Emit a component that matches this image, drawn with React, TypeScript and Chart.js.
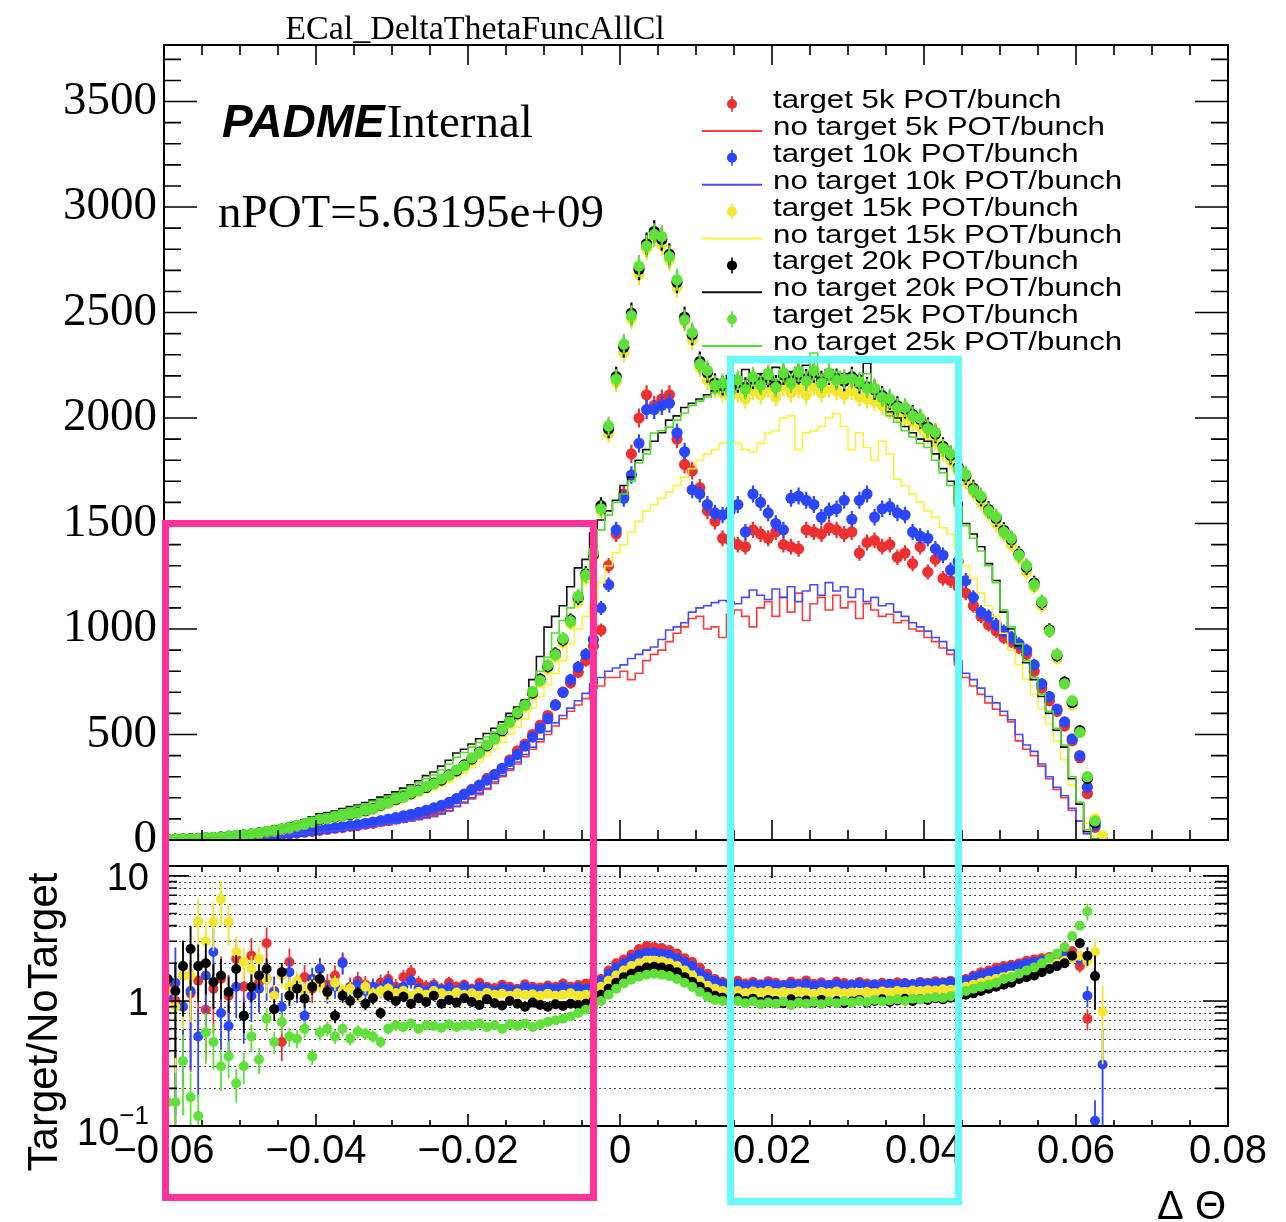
import React, { useEffect, useRef } from 'react';
import { Chart, registerables } from 'chart.js';

Chart.register(...registerables);

// ---------------- binning & axes ----------------
const X_START = -0.06;
const BIN_W = 0.001;
const X_MIN = -0.06;
const X_MAX = 0.08;
const X_TICKS = [-0.06, -0.04, -0.02, 0, 0.02, 0.04, 0.06, 0.08];
const X_MINOR_STEP = 0.005;
const UPPER_Y_MAX = 3768;
const UPPER_Y_TICKS = [0, 500, 1000, 1500, 2000, 2500, 3000, 3500];
const UPPER_Y_MINOR_STEP = 100;
const RATIO_Y_MIN = 0.1;
const RATIO_Y_MAX = 12;
const RATIO_Y_TICKS = [0.1, 1, 10];
const RATIO_Y_TICK_LABELS = [['10', '\u22121'], ['1', ''], ['10', '']];

const TITLE = 'ECal_DeltaThetaFuncAllCl';
const X_TITLE = '\u0394 \u0398';
const RATIO_Y_TITLE = 'Target/NoTarget';
const EXPERIMENT = 'PADME';
const STATUS = 'Internal';
const N_POT_TEXT = 'nPOT=5.63195e+09';
const POT_LABELS = ['5k', '10k', '15k', '20k', '25k'];

// ---------------- target (points) ----------------
const T_5K = [
  2, 3, 3, 4, 5, 6, 7, 8, 10, 11,
  13, 15, 17, 20, 23, 26, 29, 33, 37, 41,
  46, 50, 56, 59, 65, 68, 75, 79, 87, 92,
  99, 105, 114, 120, 131, 141, 155, 172, 195, 218,
  240, 255, 292, 310, 338, 380, 422, 455, 500, 545,
  590, 640, 700, 745, 795, 850, 920, 995, 1300, 1450,
  1640, 1830, 2000, 2110, 2060, 2090, 2110, 1900, 1780, 1750,
  1670, 1560, 1510, 1430, 1420, 1400, 1390, 1470, 1450, 1430,
  1460, 1400, 1390, 1380, 1470, 1460, 1450, 1480, 1470, 1450,
  1460, 1360, 1410, 1420, 1390, 1400, 1340, 1360, 1310, 1390,
  1270, 1330, 1240, 1230, 1200, 1170, 1110, 1060, 1020, 990,
  960, 940, 910, 880, 800, 720, 660, 610, 540, 470,
  390, 220, 60, 0,
];
const T_10K = [
  2, 3, 4, 4, 5, 6, 8, 9, 10, 12,
  14, 16, 18, 21, 24, 28, 31, 35, 39, 44,
  50, 54, 58, 63, 68, 73, 79, 85, 92, 99,
  106, 114, 122, 131, 141, 152, 164, 178, 196, 216,
  238, 260, 284, 310, 340, 372, 405, 445, 488, 530,
  575, 640, 700, 760, 820, 880, 950, 1100, 1210, 1470,
  1620, 1730, 1880, 2040, 2040, 2060, 2070, 1930, 1840, 1660,
  1640, 1590, 1550, 1540, 1560, 1590, 1460, 1640, 1600, 1550,
  1500, 1470, 1620, 1630, 1610, 1590, 1530, 1560, 1570, 1610,
  1520, 1610, 1640, 1530, 1570, 1580, 1550, 1540, 1460, 1440,
  1430, 1380, 1350, 1280, 1320, 1230, 1150, 1080, 1060, 1020,
  990, 960, 930, 900, 830, 740, 680, 620, 560, 480,
  400, 250, 70, 2,
];
const T_15K = [
  3, 4, 5, 6, 8, 10, 12, 14, 17, 20,
  24, 28, 32, 38, 43, 50, 57, 66, 75, 85,
  95, 101, 108, 113, 120, 127, 136, 146, 160, 174,
  188, 201, 216, 230, 246, 262, 281, 301, 324, 349,
  377, 408, 440, 474, 510, 550, 590, 630, 688, 748,
  810, 868, 935, 1025, 1130, 1240, 1335, 1560, 1925, 2170,
  2310, 2470, 2680, 2800, 2860, 2820, 2750, 2620, 2460, 2370,
  2240, 2180, 2140, 2120, 2100, 2120, 2090, 2130, 2110, 2140,
  2100, 2150, 2120, 2140, 2110, 2150, 2120, 2140, 2130, 2110,
  2130, 2100, 2090, 2080, 2060, 2040, 2020, 2000, 1980, 1960,
  1920, 1890, 1840, 1800, 1750, 1700, 1650, 1600, 1550, 1500,
  1450, 1400, 1340, 1270, 1200, 1110, 990, 860, 740, 640,
  510, 300, 100, 20,
];
const T_20K = [
  3, 4, 5, 7, 8, 10, 12, 15, 18, 21,
  25, 29, 34, 40, 46, 53, 60, 68, 77, 87,
  97, 104, 109, 117, 121, 130, 139, 149, 164, 177,
  192, 206, 219, 236, 249, 270, 284, 309, 328, 356,
  384, 417, 446, 483, 518, 563, 598, 643, 697, 763,
  822, 884, 948, 1043, 1148, 1262, 1352, 1585, 1948, 2196,
  2335, 2497, 2705, 2826, 2884, 2846, 2776, 2643, 2478, 2394,
  2268, 2214, 2166, 2153, 2138, 2166, 2147, 2184, 2168, 2193,
  2158, 2204, 2176, 2206, 2186, 2214, 2177, 2203, 2188, 2174,
  2196, 2163, 2148, 2133, 2106, 2084, 2058, 2043, 2017, 1994,
  1958, 1924, 1866, 1823, 1768, 1724, 1667, 1622, 1566, 1524,
  1468, 1423, 1356, 1292, 1218, 1124, 996, 873, 748, 652,
  518, 292, 82, 0,
];
const T_25K = [
  3, 4, 5, 6, 8, 11, 12, 14, 18, 22,
  24, 30, 33, 41, 45, 54, 59, 69, 76, 86,
  99, 102, 111, 115, 124, 128, 141, 147, 166, 175,
  195, 203, 222, 233, 253, 266, 289, 305, 333, 352,
  389, 413, 451, 479, 523, 558, 604, 639, 703, 756,
  829, 878, 955, 1036, 1156, 1255, 1360, 1570, 1962, 2185,
  2350, 2485, 2720, 2815, 2870, 2860, 2765, 2655, 2465, 2405,
  2255, 2225, 2155, 2165, 2125, 2180, 2135, 2195, 2155, 2205,
  2145, 2215, 2165, 2218, 2175, 2225, 2165, 2212, 2178, 2185,
  2186, 2172, 2140, 2142, 2098, 2092, 2050, 2050, 2010, 2000,
  1950, 1932, 1858, 1830, 1760, 1732, 1660, 1630, 1560, 1532,
  1460, 1430, 1350, 1300, 1210, 1130, 990, 880, 740, 660,
  510, 300, 90, 0,
];

// ---------------- no target (histograms) ----------------
const NT_5K = [
  2, 2, 3, 3, 4, 5, 6, 7, 8, 9,
  10, 12, 14, 16, 18, 20, 23, 26, 29, 33,
  36, 39, 43, 47, 51, 55, 59, 63, 68, 73,
  78, 84, 90, 96, 103, 111, 122, 137, 158, 175,
  195, 215, 240, 268, 300, 330, 360, 395, 430, 465,
  500, 540, 575, 610, 640, 670, 720, 730, 770, 770,
  800, 760, 790, 850, 880, 900, 940, 980, 1010, 1050,
  1060, 1000, 1010, 960, 1070, 1090, 1060, 1010, 1100, 1130,
  1060, 1150, 1080, 1170, 1040, 1120, 1150, 1090, 1160, 1100,
  1130, 1050, 1120, 1090, 1060, 1070, 1030, 1040, 1000, 990,
  960, 940, 910, 880, 830, 770, 730, 690, 650, 620,
  590, 560, 470, 430, 400, 350, 290, 240, 200, 140,
  90, 30, 5, 0,
  0, 0, 0, 0, 0, 0, 0, 0, 0, 0,
];
const NT_10K = [
  2, 2, 3, 3, 4, 5, 6, 7, 8, 9,
  11, 12, 14, 16, 18, 21, 24, 27, 30, 34,
  37, 40, 44, 48, 52, 56, 60, 65, 70, 75,
  80, 86, 92, 99, 106, 114, 125, 140, 160, 180,
  200, 222, 245, 275, 305, 338, 370, 405, 440, 478,
  515, 555, 590, 625, 660, 695, 740, 770, 800, 815,
  830, 860, 880, 900, 915, 950, 995, 1010, 1030, 1080,
  1100, 1110, 1125, 1135, 1130, 1120, 1150, 1185, 1160, 1140,
  1190, 1150, 1200, 1130, 1180, 1210, 1160, 1220, 1180, 1200,
  1150, 1190, 1130, 1150, 1110, 1120, 1080, 1060, 1030, 1010,
  990, 960, 940, 900, 850, 790, 760, 720, 680, 650,
  610, 570, 500, 450, 420, 360, 300, 250, 210, 150,
  90, 30, 5, 3,
  0, 0, 0, 0, 0, 0, 0, 0, 0, 0,
];
const NT_15K = [
  3, 4, 5, 6, 7, 9, 11, 13, 15, 18,
  22, 25, 29, 34, 39, 45, 52, 60, 68, 77,
  86, 92, 98, 103, 109, 115, 124, 133, 145, 158,
  171, 183, 196, 209, 224, 238, 255, 274, 295, 317,
  343, 371, 400, 431, 464, 500, 536, 573, 625, 680,
  736, 789, 850, 930, 1000, 1060, 1120, 1220, 1300, 1360,
  1400, 1460, 1510, 1560, 1590, 1620, 1650, 1680, 1720, 1760,
  1800, 1830, 1850, 1880, 1890, 1880, 1850, 1840, 1880, 1930,
  1940, 2000, 2010, 1850, 1930, 1940, 1960, 2000, 2020, 1960,
  1850, 1930, 1860, 1800, 1890, 1830, 1710, 1680, 1640, 1600,
  1560, 1530, 1480, 1450, 1380, 1300, 1240, 1170, 1110, 1060,
  980, 900, 830, 760, 690, 620, 550, 470, 380, 260,
  170, 80, 20, 3,
  0, 0, 0, 0, 0, 0, 0, 0, 0, 0,
];
const NT_20K = [
  3, 4, 6, 7, 9, 11, 14, 17, 21, 25,
  30, 35, 42, 50, 58, 66, 75, 85, 96, 110,
  124, 130, 137, 149, 158, 166, 178, 190, 203, 214,
  228, 246, 262, 281, 305, 322, 350, 378, 412, 430,
  455, 480, 505, 530, 560, 600, 630, 663, 760, 870,
  1009, 1060, 1110, 1200, 1290, 1330, 1455, 1517, 1560, 1610,
  1680, 1720, 1800, 1850, 1890, 1930, 1990, 2010, 2050, 2070,
  2090, 2110, 2130, 2150, 2200, 2170, 2230, 2180, 2210, 2160,
  2240, 2190, 2220, 2170, 2250, 2200, 2180, 2230, 2190, 2210,
  2170, 2200, 2260, 2150, 2100, 2030, 2000, 1960, 1930, 1900,
  1890, 1830, 1760, 1700, 1600, 1500, 1450, 1390, 1310, 1230,
  1080, 1000, 920, 840, 760, 680, 600, 520, 440, 290,
  170, 40, 5, 0,
  0, 0, 0, 0, 0, 0, 0, 0, 0, 0,
];
const NT_25K = [
  3, 4, 5, 7, 8, 10, 13, 16, 19, 23,
  28, 33, 39, 46, 53, 61, 70, 80, 91, 104,
  115, 123, 131, 141, 150, 160, 170, 182, 195, 207,
  220, 236, 252, 270, 290, 308, 332, 360, 392, 415,
  440, 462, 488, 512, 545, 580, 610, 640, 720, 800,
  867, 981, 1040, 1100, 1137, 1250, 1380, 1470, 1540, 1600,
  1640, 1700, 1787, 1830, 1929, 1940, 1957, 1990, 2024, 2060,
  2080, 2100, 2120, 2160, 2140, 2190, 2150, 2200, 2170, 2230,
  2180, 2210, 2160, 2240, 2190, 2308, 2200, 2180, 2220, 2170,
  2190, 2150, 2210, 2120, 2080, 2010, 1980, 1940, 1910, 1880,
  1860, 1800, 1740, 1680, 1580, 1490, 1430, 1370, 1300, 1220,
  1090, 1010, 930, 850, 770, 690, 610, 530, 450, 300,
  180, 50, 5, 0,
  0, 0, 0, 0, 0, 0, 0, 0, 0, 0,
];

// ---------------- ratio target / no target ----------------
const R_5K = [
  1.3, 1.0, 1.6, 1.15, 1.45, 0.85, 1.25, 1.5, 1.1, 2.17,
  1.3, 2.3, 1.4, 2.9, 1.2, 0.47, 2.05, 1.3, 1.55, 1.25,
  1.8, 1.35, 1.6, 2.05, 1.3, 1.45, 1.35, 1.25, 1.4, 1.5,
  1.3, 1.55, 1.7, 1.4, 1.3, 1.35, 1.25, 1.4, 1.3, 1.35,
  1.25, 1.4, 1.3, 1.27, 1.35, 1.3, 1.25, 1.36, 1.3, 1.28,
  1.33, 1.3, 1.38, 1.3, 1.34, 1.38, 1.42, 1.5, 1.75, 2.0,
  2.15, 2.35, 2.6, 2.75, 2.7, 2.65, 2.55, 2.4, 2.2, 2.05,
  1.85, 1.65, 1.5, 1.42, 1.4, 1.45, 1.38, 1.42, 1.36, 1.44,
  1.4, 1.35, 1.43, 1.38, 1.46, 1.37, 1.41, 1.35, 1.43, 1.39,
  1.36, 1.42, 1.38, 1.34, 1.4, 1.37, 1.41, 1.39, 1.36, 1.42,
  1.4, 1.44, 1.41, 1.45, 1.43, 1.5, 1.6, 1.7, 1.75, 1.85,
  1.9, 1.95, 2.0, 2.1, 2.15, 2.2, 2.25, 2.35, 2.45, 2.5,
  1.9, 0.72, null, null,
];
const R_10K = [
  1.1, 1.4, 0.9, 1.2, 0.52, 1.6, 2.46, 0.8, 0.63, 1.3,
  0.76, 1.1, 1.25, 1.5, 1.18, 0.9, 1.7, 1.3, 0.76, 1.5,
  1.8, 1.2, 1.3, 2.0, 1.25, 1.35, 1.2, 1.3, 1.25, 1.4,
  1.2, 1.3, 1.45, 1.25, 1.2, 1.3, 1.22, 1.28, 1.2, 1.3,
  1.22, 1.3, 1.25, 1.2, 1.28, 1.24, 1.22, 1.3, 1.25, 1.23,
  1.28, 1.25, 1.3, 1.24, 1.28, 1.25, 1.3, 1.45, 1.65, 1.85,
  2.0, 2.2, 2.35, 2.45, 2.45, 2.4, 2.35, 2.2, 2.05, 1.9,
  1.7, 1.55, 1.45, 1.38, 1.35, 1.37, 1.33, 1.36, 1.34, 1.38,
  1.35, 1.33, 1.37, 1.34, 1.38, 1.32, 1.36, 1.34, 1.37, 1.33,
  1.35, 1.38, 1.33, 1.36, 1.34, 1.37, 1.35, 1.38, 1.36, 1.39,
  1.38, 1.4, 1.39, 1.42, 1.41, 1.46, 1.55, 1.62, 1.68, 1.75,
  1.82, 1.88, 1.93, 2.0, 2.05, 2.1, 2.15, 2.2, 2.28, 2.3,
  2.17, 1.1, 0.11, 0.31,
];
const R_15K = [
  1.2, 0.9, 1.6, 1.6, 4.3, 3.0, 4.3, 6.5, 4.3, 2.46,
  2.05, 1.8, 2.17, 1.5, 1.1, 1.6, 1.3, 1.45, 1.2, 1.35,
  1.35, 1.15, 1.4, 1.2, 1.25, 1.1, 1.3, 1.15, 1.2, 1.25,
  1.15, 1.2, 1.1, 1.18, 1.12, 1.2, 1.15, 1.1, 1.17, 1.12,
  1.15, 1.1, 1.16, 1.12, 1.14, 1.1, 1.15, 1.12, 1.13, 1.1,
  1.14, 1.1, 1.12, 1.15, 1.1, 1.12, 1.15, 1.3, 1.45, 1.6,
  1.75, 1.9, 2.0, 2.1, 2.1, 2.08, 2.0, 1.9, 1.75, 1.6,
  1.45, 1.32, 1.25, 1.2, 1.18, 1.2, 1.16, 1.19, 1.17, 1.2,
  1.16, 1.18, 1.15, 1.19, 1.17, 1.14, 1.18, 1.16, 1.19, 1.15,
  1.17, 1.15, 1.18, 1.16, 1.19, 1.17, 1.2, 1.18, 1.21, 1.2,
  1.22, 1.21, 1.24, 1.23, 1.26, 1.3, 1.35, 1.4, 1.45, 1.5,
  1.55, 1.6, 1.65, 1.7, 1.75, 1.8, 1.9, 2.0, 2.1, 2.2,
  2.3, 2.1, 2.46, 0.82,
];
const R_20K = [
  1.5, 1.2, 1.9, 2.6, 1.9, 2.0, 1.42, 1.6, 1.18, 1.8,
  0.76, 1.3, 1.6, 1.8, 0.86, 1.7, 1.1, 1.25, 1.04, 1.3,
  1.5, 1.18, 0.76, 1.1, 1.0, 1.15, 0.95, 1.05, 0.8, 1.1,
  1.0, 1.08, 0.95, 1.05, 0.98, 1.1, 0.95, 1.02, 0.97, 1.05,
  0.98, 0.93, 1.03, 0.96, 0.92, 1.0, 0.95, 0.9, 0.97, 0.93,
  0.9, 0.94, 0.91, 0.95, 0.93, 0.95, 1.0, 1.12, 1.25, 1.4,
  1.55, 1.65, 1.75, 1.85, 1.88, 1.85, 1.8, 1.7, 1.55, 1.42,
  1.3, 1.18, 1.1, 1.06, 1.03, 1.05, 1.0, 1.04, 0.98, 1.02,
  1.0, 0.96, 1.03, 0.99, 1.01, 0.97, 1.02, 0.98, 1.0, 0.96,
  0.99, 1.02, 0.97, 1.0, 1.03, 0.98, 1.01, 1.04, 1.0, 1.03,
  1.02, 1.05, 1.03, 1.06, 1.08, 1.12, 1.15, 1.2, 1.25, 1.3,
  1.35, 1.4, 1.5, 1.55, 1.6, 1.7, 1.8, 1.9, 2.0, 2.3,
  2.9, 2.3, 1.58, null,
];
const R_25K = [
  0.155, 0.155, 0.33, 0.17, 0.12, 0.56, 0.47, 0.3, 0.36, 0.22,
  0.3, 0.52, 0.34, 0.72, 0.47, 0.68, 0.52, 0.5, 0.6, 0.36,
  0.56, 0.6, 0.52, 0.6, 0.5, 0.57, 0.55, 0.52, 0.47, 0.6,
  0.64, 0.62, 0.66, 0.6, 0.64, 0.63, 0.61, 0.65, 0.62, 0.64,
  0.63, 0.66, 0.62, 0.64, 0.6, 0.65, 0.63, 0.66, 0.62, 0.65,
  0.68, 0.7, 0.72, 0.75, 0.8, 0.85, 0.9, 1.0, 1.12, 1.25,
  1.38, 1.48, 1.56, 1.62, 1.65, 1.62, 1.58, 1.5, 1.4, 1.3,
  1.18, 1.08, 1.02, 1.0, 0.98, 1.0, 0.96, 0.99, 0.94, 0.97,
  0.95, 0.99, 0.93, 0.97, 0.95, 0.98, 0.94, 0.99, 0.96, 1.0,
  0.97, 1.0, 0.98, 1.02, 0.99, 1.01, 1.03, 1.0, 1.04, 1.03,
  1.05, 1.07, 1.06, 1.09, 1.12, 1.2, 1.25, 1.3, 1.35, 1.4,
  1.5, 1.55, 1.65, 1.75, 1.85, 2.0, 2.2, 2.4, 2.7, 3.3,
  4.0, 5.2, null, null,
];

const TARGET_DATA = [T_5K, T_10K, T_15K, T_20K, T_25K];
const NO_TARGET_DATA = [NT_5K, NT_10K, NT_15K, NT_20K, NT_25K];
const RATIO_DATA = [R_5K, R_10K, R_15K, R_20K, R_25K];

// ---------------- styles ----------------
const POINT_COLORS = ['#ee3030', '#2a46ff', '#f3e62c', '#000000', '#5fe03a'];
const LINE_COLORS = ['#ff3b3b', '#4a4aff', '#fff03a', '#101010', '#4ee02a'];
const SERIF = '"Liberation Serif", "Times New Roman", serif';
const SANS = '"Liberation Sans", Arial, sans-serif';

const binCenter = (i: number) => X_START + (i + 0.5) * BIN_W;
const fmtX = (v: number) => (Math.abs(v) < 1e-12 ? '0' : (v < 0 ? '\u2212' : '') + Math.abs(v).toFixed(2));

// error bars drawn under each dataset's markers
const errorBarPlugin = {
  id: 'errorBars',
  beforeDatasetDraw(chart: any, args: any) {
    const ds = chart.data.datasets[args.index];
    if (!ds || !ds.withErrors) return;
    const { ctx, chartArea: a, scales } = chart;
    const xs = scales.x, ys = scales.y;
    const floor = ys.type === 'logarithmic' ? 1e-3 : -1e9;
    ctx.save();
    ctx.beginPath();
    ctx.rect(a.left, a.top, a.right - a.left, a.bottom - a.top);
    ctx.clip();
    ctx.strokeStyle = ds.errColor;
    ctx.lineWidth = ds.errWidth;
    ctx.beginPath();
    for (const p of ds.data) {
      if (!p.e) continue;
      const px = xs.getPixelForValue(p.x);
      const y1 = ys.getPixelForValue(Math.max(p.y - p.e, floor));
      const y2 = ys.getPixelForValue(p.y + p.e);
      ctx.moveTo(px, y1);
      ctx.lineTo(px, y2);
    }
    ctx.stroke();
    ctx.restore();
  },
};

function isMajorX(v: number) {
  return X_TICKS.some((t) => Math.abs(t - v) < 1e-9);
}

const upperDecorPlugin = {
  id: 'upperDecor',
  afterDraw(chart: any) {
    const { ctx, chartArea: a, scales } = chart;
    const xs = scales.x, ys = scales.y;
    ctx.save();
    ctx.strokeStyle = '#000';
    ctx.lineWidth = 2;
    ctx.strokeRect(a.left, a.top, a.right - a.left, a.bottom - a.top);
    ctx.lineWidth = 1.6;
    ctx.beginPath();
    const nx = Math.round((X_MAX - X_MIN) / X_MINOR_STEP);
    for (let k = 0; k <= nx; k++) {
      const v = X_MIN + k * X_MINOR_STEP;
      const L = isMajorX(v) ? 20 : 10;
      const px = xs.getPixelForValue(v);
      ctx.moveTo(px, a.bottom); ctx.lineTo(px, a.bottom - L);
      ctx.moveTo(px, a.top); ctx.lineTo(px, a.top + L);
    }
    for (let v = 0; v <= UPPER_Y_MAX; v += UPPER_Y_MINOR_STEP) {
      const L = UPPER_Y_TICKS.includes(v) ? 33 : 17;
      const py = ys.getPixelForValue(v);
      ctx.moveTo(a.left, py); ctx.lineTo(a.left + L, py);
      ctx.moveTo(a.right, py); ctx.lineTo(a.right - L, py);
    }
    ctx.stroke();

    // title & labels
    ctx.fillStyle = '#000';
    ctx.textBaseline = 'alphabetic';
    ctx.textAlign = 'center';
    ctx.font = `34px ${SERIF}`;
    ctx.fillText(TITLE, 475, 39);
    ctx.textAlign = 'left';
    ctx.font = `italic bold 46px ${SANS}`;
    ctx.fillText(EXPERIMENT, 222, 137);
    const w = ctx.measureText(EXPERIMENT).width;
    ctx.font = `47px ${SERIF}`;
    ctx.fillText(STATUS, 222 + w + 2, 137);
    ctx.fillText(N_POT_TEXT, 218, 227);

    // legend
    for (let k = 0; k < POT_LABELS.length; k++) {
      for (let j = 0; j < 2; j++) {
        const row = k * 2 + j;
        const my = 104 + 26.9 * row;
        if (j === 0) {
          ctx.strokeStyle = POINT_COLORS[k];
          ctx.lineWidth = 1.6;
          ctx.beginPath();
          ctx.moveTo(732, my - 8); ctx.lineTo(732, my + 8);
          ctx.stroke();
          ctx.fillStyle = POINT_COLORS[k];
          ctx.beginPath();
          ctx.arc(732, my, 5, 0, Math.PI * 2);
          ctx.fill();
        } else {
          ctx.strokeStyle = LINE_COLORS[k];
          ctx.lineWidth = 2;
          ctx.beginPath();
          ctx.moveTo(702, my); ctx.lineTo(762, my);
          ctx.stroke();
        }
        const label = (j === 0 ? 'target ' : 'no target ') + POT_LABELS[k] + ' POT/bunch';
        ctx.save();
        ctx.translate(773, my + 4);
        ctx.scale(1.25, 1);
        ctx.fillStyle = '#000';
        ctx.font = `25px ${SANS}`;
        ctx.textAlign = 'left';
        ctx.fillText(label, 0, 0);
        ctx.restore();
      }
    }
    ctx.restore();
  },
};

function ratioMinorValues() {
  const out: number[] = [];
  for (const d of [0.1, 1, 10]) {
    for (let m = 1; m <= 9; m++) {
      const v = m * d;
      if (v > RATIO_Y_MIN * 1.0001 && v <= RATIO_Y_MAX) out.push(v);
    }
  }
  return out;
}

const lowerDecorPlugin = {
  id: 'lowerDecor',
  beforeDatasetsDraw(chart: any) {
    const { ctx, chartArea: a, scales } = chart;
    const ys = scales.y;
    ctx.save();
    ctx.strokeStyle = '#4a4a4a';
    ctx.lineWidth = 1.2;
    ctx.setLineDash([2, 3]);
    ctx.beginPath();
    for (const v of ratioMinorValues()) {
      if (v > 10.0001) continue;
      const py = Math.round(ys.getPixelForValue(v)) + 0.5;
      ctx.moveTo(a.left, py); ctx.lineTo(a.right, py);
    }
    ctx.stroke();
    ctx.restore();
  },
  afterDraw(chart: any) {
    const { ctx, chartArea: a, scales } = chart;
    const xs = scales.x, ys = scales.y;
    ctx.save();
    ctx.strokeStyle = '#000';
    ctx.lineWidth = 2;
    ctx.strokeRect(a.left, a.top, a.right - a.left, a.bottom - a.top);
    ctx.lineWidth = 1.6;
    ctx.beginPath();
    const nx = Math.round((X_MAX - X_MIN) / X_MINOR_STEP);
    for (let k = 0; k <= nx; k++) {
      const v = X_MIN + k * X_MINOR_STEP;
      const L = isMajorX(v) ? 12 : 6;
      const px = xs.getPixelForValue(v);
      ctx.moveTo(px, a.bottom); ctx.lineTo(px, a.bottom - L);
      ctx.moveTo(px, a.top); ctx.lineTo(px, a.top + L);
    }
    for (const v of ratioMinorValues()) {
      const L = RATIO_Y_TICKS.some((t) => Math.abs(t - v) < 1e-9) ? 25 : 13;
      const py = ys.getPixelForValue(v);
      ctx.moveTo(a.left, py); ctx.lineTo(a.left + L, py);
      ctx.moveTo(a.right, py); ctx.lineTo(a.right - L, py);
    }
    ctx.stroke();

    // y tick labels (with superscript exponent)
    ctx.fillStyle = '#000';
    ctx.textBaseline = 'middle';
    ctx.textAlign = 'left';
    RATIO_Y_TICKS.forEach((v, i) => {
      const [main, sup] = RATIO_Y_TICK_LABELS[i];
      const py = ys.getPixelForValue(v);
      ctx.font = `38px ${SANS}`;
      const mw = ctx.measureText(main).width;
      if (sup) {
        ctx.font = `26px ${SANS}`;
        const sw = ctx.measureText(sup).width;
        const x0 = 149 - sw - mw;
        ctx.font = `38px ${SANS}`;
        ctx.fillText(main, x0, py + 9);
        ctx.font = `26px ${SANS}`;
        ctx.fillText(sup, x0 + mw, py - 9);
      } else {
        ctx.font = `38px ${SANS}`;
        ctx.fillText(main, 149 - mw, py + 4);
      }
    });

    // y title
    ctx.save();
    ctx.translate(45, 172);
    ctx.rotate(-Math.PI / 2);
    ctx.font = `42px ${SANS}`;
    ctx.textAlign = 'center';
    ctx.textBaseline = 'middle';
    ctx.fillText(RATIO_Y_TITLE, 0, 0);
    ctx.restore();

    // x title
    ctx.font = `40px ${SANS}`;
    ctx.textAlign = 'right';
    ctx.textBaseline = 'alphabetic';
    ctx.fillText(X_TITLE, 1226, 369);
    ctx.restore();
  },
};

function buildUpperDatasets() {
  const out: any[] = [];
  POT_LABELS.forEach((_, k) => {
    const T = TARGET_DATA[k];
    const N = NO_TARGET_DATA[k];
    out.push({
      label: 'target ' + POT_LABELS[k],
      data: T.map((v, i) => ({ x: binCenter(i), y: v, e: Math.sqrt(v) })).filter((p) => p.y > 0),
      showLine: false,
      pointRadius: 5.6,
      pointHoverRadius: 5.6,
      pointBorderWidth: 0,
      backgroundColor: POINT_COLORS[k],
      borderColor: POINT_COLORS[k],
      withErrors: true,
      errColor: POINT_COLORS[k],
      errWidth: 2.2,
      order: 10 - 2 * k,
    });
    out.push({
      label: 'no target ' + POT_LABELS[k],
      data: N.map((v, i) => ({ x: binCenter(i), y: v })),
      showLine: true,
      stepped: 'middle',
      pointRadius: 0,
      pointHoverRadius: 0,
      borderWidth: 1.6,
      borderColor: LINE_COLORS[k],
      backgroundColor: 'rgba(0,0,0,0)',
      fill: false,
      order: 9 - 2 * k,
    });
  });
  return out;
}

function buildLowerDatasets() {
  return POT_LABELS.map((_, k) => {
    const R = RATIO_DATA[k];
    const T = TARGET_DATA[k];
    const N = NO_TARGET_DATA[k];
    const pts: any[] = [];
    R.forEach((r, i) => {
      if (r === null || r === undefined) return;
      const t = T[i] || 0;
      const n = N[i] || 0;
      const rel = Math.sqrt((t > 0 ? 1 / t : 0) + (n > 0 ? 1 / n : 0));
      pts.push({ x: binCenter(i), y: r, e: r * rel });
    });
    return {
      label: 'ratio ' + POT_LABELS[k],
      data: pts,
      showLine: false,
      pointRadius: 5,
      pointHoverRadius: 5,
      pointBorderWidth: 0,
      backgroundColor: POINT_COLORS[k],
      borderColor: POINT_COLORS[k],
      withErrors: true,
      errColor: POINT_COLORS[k],
      errWidth: 1.8,
      order: 5 - k,
    };
  });
}

export default function App() {
  const upRef = useRef<HTMLCanvasElement>(null);
  const lowRef = useRef<HTMLCanvasElement>(null);

  useEffect(() => {
    const upper = new Chart(upRef.current as HTMLCanvasElement, {
      type: 'scatter',
      data: { datasets: buildUpperDatasets() },
      options: {
        animation: false,
        responsive: false,
        devicePixelRatio: 1,
        events: [],
        layout: { padding: { left: 0, top: 45, right: 58, bottom: 0 } },
        plugins: { legend: { display: false }, tooltip: { enabled: false }, title: { display: false } },
        scales: {
          x: {
            type: 'linear',
            min: X_MIN,
            max: X_MAX,
            grid: { display: false, drawTicks: false },
            border: { display: false },
            ticks: { display: false },
            afterFit: (s: any) => { s.height = 30; s.paddingLeft = 0; s.paddingRight = 0; },
          },
          y: {
            type: 'linear',
            min: 0,
            max: UPPER_Y_MAX,
            grid: { display: false, drawTicks: false },
            border: { display: false },
            ticks: {
              autoSkip: false,
              padding: 7,
              color: '#000',
              font: { family: SERIF, size: 47 },
              callback: (v: any) => String(v),
            },
            afterBuildTicks: (s: any) => { s.ticks = UPPER_Y_TICKS.map((v) => ({ value: v })); },
            afterFit: (s: any) => { s.width = 164; s.paddingTop = 0; s.paddingBottom = 0; },
          },
        },
      } as any,
      plugins: [errorBarPlugin, upperDecorPlugin],
    } as any);

    const lower = new Chart(lowRef.current as HTMLCanvasElement, {
      type: 'scatter',
      data: { datasets: buildLowerDatasets() },
      options: {
        animation: false,
        responsive: false,
        devicePixelRatio: 1,
        events: [],
        layout: { padding: { left: 0, top: 16, right: 58, bottom: 0 } },
        plugins: { legend: { display: false }, tooltip: { enabled: false }, title: { display: false } },
        scales: {
          x: {
            type: 'linear',
            min: X_MIN,
            max: X_MAX,
            grid: { display: false, drawTicks: false },
            border: { display: false },
            ticks: {
              autoSkip: false,
              maxRotation: 0,
              minRotation: 0,
              padding: 2,
              color: '#000',
              font: { family: SANS, size: 40 },
              callback: (v: any) => fmtX(Number(v)),
            },
            afterBuildTicks: (s: any) => { s.ticks = X_TICKS.map((v) => ({ value: v })); },
            afterFit: (s: any) => { s.height = 96; s.paddingLeft = 0; s.paddingRight = 0; },
          },
          y: {
            type: 'logarithmic',
            min: RATIO_Y_MIN,
            max: RATIO_Y_MAX,
            grid: { display: false, drawTicks: false },
            border: { display: false },
            ticks: { display: false },
            afterFit: (s: any) => { s.width = 164; s.paddingTop = 0; s.paddingBottom = 0; },
          },
        },
      } as any,
      plugins: [errorBarPlugin, lowerDecorPlugin],
    } as any);

    return () => {
      upper.destroy();
      lower.destroy();
    };
  }, []);

  return (
    <div style={{ position: 'absolute', left: 0, top: 0, width: 1286, height: 1222, background: '#fff', overflow: 'hidden' }}>
      <canvas ref={upRef} width={1286} height={870} style={{ position: 'absolute', left: 0, top: 0 }} />
      <canvas ref={lowRef} width={1286} height={372} style={{ position: 'absolute', left: 0, top: 850 }} />
      <div style={{ position: 'absolute', left: 162, top: 520, width: 435, height: 681, border: '7px solid #ff3399', boxSizing: 'border-box' }} />
      <div style={{ position: 'absolute', left: 727, top: 356, width: 235, height: 849, border: '7px solid #66fafa', boxSizing: 'border-box' }} />
    </div>
  );
}
